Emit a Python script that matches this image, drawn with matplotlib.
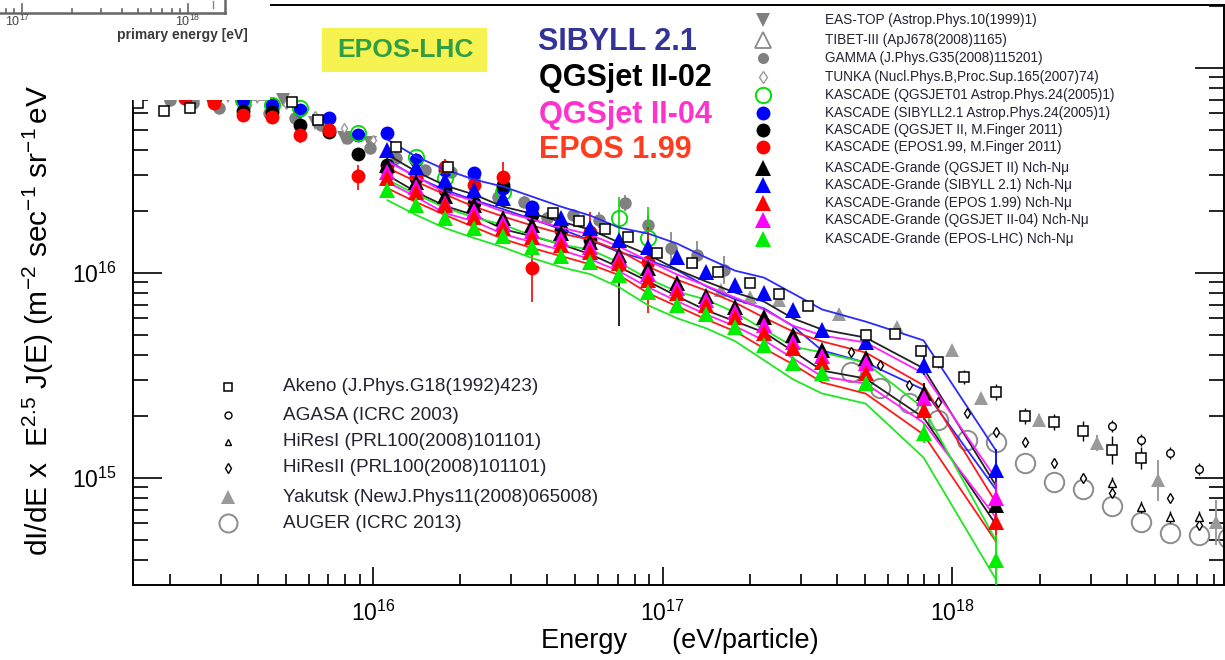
import numpy as np
import matplotlib
matplotlib.use('Agg')
import matplotlib.pyplot as plt
from matplotlib.ticker import LogLocator, LogFormatterMathtext, NullFormatter
from matplotlib.lines import Line2D
from matplotlib.patches import Rectangle

plt.rcParams['font.family'] = ['Liberation Sans', 'DejaVu Sans']
plt.rcParams['mathtext.fontset'] = 'custom'
plt.rcParams['mathtext.rm'] = 'Liberation Sans'
plt.rcParams['mathtext.it'] = 'Liberation Sans:italic'
plt.rcParams['mathtext.bf'] = 'Liberation Sans:bold'

# ---------------- data (log10 E [eV], log10 flux*E^2.5) ----------------
kg_logE = [16.05, 16.15, 16.25, 16.35, 16.45, 16.55, 16.65, 16.75, 16.85, 16.95,
           17.05, 17.15, 17.25, 17.35, 17.45, 17.55, 17.70, 17.90, 18.15]
kg_sibyll = [16.600, 16.517, 16.454, 16.405, 16.366, 16.317, 16.268, 16.220, 16.161, 16.127,
             16.078, 16.005, 15.941, 15.902, 15.820, 15.722, 15.663, 15.551, 15.039]
kg_qgsjet2 = [16.527, 16.444, 16.376, 16.332, 16.268, 16.234, 16.195, 16.151, 16.088, 16.024,
              15.951, 15.888, 15.834, 15.785, 15.698, 15.624, 15.585, 15.415, 14.868]
kg_qgsjet4 = [16.493, 16.420, 16.341, 16.302, 16.244, 16.205, 16.166, 16.127, 16.068, 15.995,
              15.927, 15.868, 15.810, 15.746, 15.663, 15.595, 15.561, 15.390, 14.902]
kg_epos199 = [16.463, 16.395, 16.332, 16.273, 16.220, 16.176, 16.137, 16.102, 16.049, 15.966,
              15.902, 15.844, 15.785, 15.707, 15.634, 15.566, 15.512, 15.332, 14.785]
kg_eposlhc = [16.405, 16.332, 16.268, 16.220, 16.180, 16.127, 16.083, 16.054, 15.990, 15.907,
              15.844, 15.800, 15.737, 15.649, 15.561, 15.512, 15.463, 15.220, 14.600]
kg_band = [0.05, 0.05, 0.05, 0.05, 0.055, 0.055, 0.055, 0.06, 0.06, 0.065,
           0.065, 0.07, 0.07, 0.075, 0.08, 0.10, 0.10, 0.12, 0.095]
kg_stat_err = [0.01, 0.01, 0.01, 0.01, 0.01, 0.01, 0.01, 0.01, 0.01, 0.015,
               0.015, 0.015, 0.02, 0.02, 0.02, 0.03, 0.03, 0.05, 0.10]
kg_last_err_lo = [0.10, 0.10, 0.10, 0.10, 0.30]   # sibyll, qgs2, qgs4, epos199, eposlhc
kg_last_err_hi = [0.10, 0.10, 0.08, 0.08, 0.12]

k_sib_logE = [15.35, 15.45, 15.55, 15.65, 15.75, 15.85, 15.95, 16.05, 16.15, 16.25, 16.35, 16.45, 16.55]
k_sib_val = [16.868, 16.859, 16.844, 16.820, 16.795, 16.756, 16.673, 16.683, 16.551, 16.502, 16.488, 16.415, 16.322]

k_qgs_logE = [15.35, 15.45, 15.55, 15.65, 15.75, 15.85, 15.95, 16.05, 16.15, 16.25, 16.35, 16.45,
              16.55, 16.65, 16.75, 16.85]
k_qgs_val = [16.854, 16.844, 16.790, 16.785, 16.722, 16.688, 16.580, 16.527, 16.463, 16.405, 16.341, 16.429,
             16.283, 16.210, 16.161, 16.039]
k_qgs_elo = [0.02, 0.02, 0.02, 0.02, 0.02, 0.02, 0.02, 0.02, 0.02, 0.03, 0.03, 0.03, 0.05, 0.06, 0.08, 0.30]
k_qgs_ehi = [0.02, 0.02, 0.02, 0.02, 0.02, 0.02, 0.02, 0.02, 0.02, 0.03, 0.03, 0.03, 0.05, 0.06, 0.08, 0.10]

k_epos_logE = [15.35, 15.45, 15.55, 15.65, 15.75, 15.85, 15.95, 16.05, 16.15, 16.25, 16.35, 16.45,
               16.55, 16.75, 16.95]
k_epos_val = [16.854, 16.829, 16.771, 16.761, 16.673, 16.698, 16.473, 16.502, 16.478, 16.517, 16.429, 16.468,
              16.024, 16.200, 16.054]
k_epos_elo = [0.02, 0.02, 0.02, 0.02, 0.04, 0.02, 0.068, 0.03, 0.03, 0.04, 0.03, 0.088, 0.165, 0.112, 0.249]
k_epos_ehi = [0.02, 0.02, 0.02, 0.02, 0.04, 0.02, 0.054, 0.03, 0.03, 0.04, 0.03, 0.073, 0.200, 0.098, 0.170]

k_q01_logE = [15.45, 15.55, 15.65, 15.75, 15.95, 16.15, 16.25, 16.45, 16.85, 16.95]
k_q01_val = [16.859, 16.844, 16.820, 16.805, 16.683, 16.566, 16.463, 16.395, 16.268, 16.171]
k_q01_elo = [0.02, 0.02, 0.02, 0.02, 0.02, 0.02, 0.03, 0.04, 0.141, 0.254]
k_q01_ehi = [0.02, 0.02, 0.02, 0.02, 0.02, 0.02, 0.03, 0.04, 0.103, 0.151]

gamma_logE = [15.30, 15.38, 15.47, 15.56, 15.64, 15.73, 15.82, 15.91, 15.99, 16.08, 16.18, 16.27,
              16.35, 16.43, 16.52, 16.60, 16.69, 16.78, 16.87, 16.95, 17.03, 17.12, 17.21]
gamma_val = [16.844, 16.829, 16.805, 16.820, 16.780, 16.756, 16.722, 16.659, 16.610, 16.561, 16.502, 16.493,
             16.463, 16.371, 16.346, 16.268, 16.283, 16.259, 16.341, 16.234, 16.122, 16.088, 16.015]
gamma_err = [0.02, 0.02, 0.02, 0.02, 0.02, 0.02, 0.02, 0.02, 0.02, 0.02, 0.02, 0.02,
             0.02, 0.02, 0.03, 0.03, 0.03, 0.04, 0.04, 0.05, 0.08, 0.07, 0.07]

eastop_logE = [15.40, 15.50, 15.60, 15.69, 15.80, 15.90, 15.99]
eastop_val = [16.868, 16.863, 16.859, 16.844, 16.732, 16.659, 16.634]

tibet_logE = [15.20, 15.30, 15.40, 15.50, 15.60]
tibet_val = [16.941, 16.932, 16.917, 16.902, 16.883]

tunka_logE = [15.50, 15.60, 15.70, 15.80, 15.90, 16.00]
tunka_val = [16.868, 16.859, 16.824, 16.766, 16.707, 16.649]

akeno_logE = [15.19, 15.28, 15.37, 15.72, 15.81, 16.08, 16.26, 16.62, 16.71, 16.80, 16.88, 16.98, 17.10,
              17.19, 17.30, 17.40, 17.50, 17.70, 17.80, 17.89, 17.95, 18.04, 18.15, 18.25, 18.35, 18.45,
              18.55, 18.65]
akeno_val = [16.829, 16.790, 16.805, 16.834, 16.746, 16.615, 16.517, 16.293, 16.254, 16.215, 16.176, 16.098,
             16.049, 16.005, 15.951, 15.898, 15.839, 15.698, 15.702, 15.620, 15.566, 15.493, 15.420, 15.302,
             15.273, 15.229, 15.137, 15.098]
akeno_err = [0.025, 0.025, 0.025, 0.02, 0.02, 0.02, 0.02, 0.02, 0.02, 0.02, 0.02, 0.02, 0.02,
             0.02, 0.02, 0.02, 0.02, 0.02, 0.02, 0.025, 0.03, 0.035, 0.04, 0.04, 0.04, 0.05,
             0.07, 0.055]

agasa_logE = [18.55, 18.65, 18.75, 18.85]
agasa_val = [15.254, 15.185, 15.122, 15.044]

hires1_logE = [18.55, 18.65, 18.75, 18.85]
hires1_val = [14.976, 14.859, 14.810, 14.810]

hires2_logE = [17.65, 17.75, 17.85, 17.95, 18.05, 18.15, 18.25, 18.35, 18.45, 18.55, 18.75, 18.85]
hires2_val = [15.615, 15.551, 15.454, 15.371, 15.317, 15.224, 15.176, 15.073, 15.000, 14.927, 14.902, 14.771]

yakutsk_logE = [17.20, 17.30, 17.40, 17.61, 17.81, 18.00, 18.10, 18.30, 18.50, 18.71, 18.91]
yakutsk_val = [15.917, 15.883, 15.868, 15.800, 15.737, 15.624, 15.390, 15.283, 15.171, 14.990, 14.785]
yakutsk_err = [0.02, 0.02, 0.02, 0.02, 0.02, 0.02, 0.02, 0.03, 0.04, 0.10, 0.11]

auger_logE = [17.65, 17.75, 17.85, 17.95, 18.05, 18.15, 18.25, 18.35, 18.45, 18.55, 18.65, 18.75, 18.85, 18.95]
auger_val = [15.517, 15.439, 15.366, 15.283, 15.185, 15.176, 15.073, 14.980, 14.946, 14.863, 14.785,
             14.732, 14.722, 14.707]

# ---------------- figure ----------------
W, H = 1225, 660
fig = plt.figure(figsize=(12.25, 6.6), dpi=100)
ax = fig.add_axes([133 / W, 1 - 585 / H, (1224 - 133) / W, 580 / H])
ax.set_xscale('log')
ax.set_yscale('log')
ax.set_xlim(10 ** 15.172, 10 ** 18.937)
ax.set_ylim(10 ** 14.478, 10 ** 17.307)

def P(a):
    return 10 ** np.asarray(a, dtype=float)

def yerr(val, lo, hi):
    v = P(val)
    return [v - v * 10 ** (-np.asarray(lo)), v * 10 ** np.asarray(hi) - v]

GREY = '#808080'
# grey world data
ax.errorbar(P(gamma_logE), P(gamma_val), yerr=yerr(gamma_val, gamma_err, gamma_err), fmt='o',
            color=GREY, ms=9, mew=0, elinewidth=1.2, capsize=0, zorder=2)
ax.plot(P(eastop_logE), P(eastop_val), 'v', color=GREY, ms=10, mew=0, zorder=2)
ax.plot(P(tibet_logE), P(tibet_val), '^', mfc='none', mec='#8a8a8a', mew=1.3, ms=11, zorder=2)
ax.plot(P(tunka_logE), P(tunka_val), 'd', mfc='white', mec='#9a9a9a', mew=1.0, ms=5, zorder=2)
ax.errorbar(P(yakutsk_logE), P(yakutsk_val), yerr=yerr(yakutsk_val, yakutsk_err, yakutsk_err), fmt='^',
            color='#9a9a9a', ms=10, mew=0, elinewidth=1.4, capsize=0, zorder=2)
ax.plot(P(auger_logE), P(auger_val), 'o', mfc='none', mec='#8c8c8c', mew=1.4, ms=14, zorder=2)

# KASCADE circles
ax.errorbar(P(k_q01_logE), P(k_q01_val), yerr=yerr(k_q01_val, k_q01_elo, k_q01_ehi), fmt='o',
            mfc='none', mec='#00dd00', ecolor='#00dd00', mew=1.3, ms=11, elinewidth=1.2, capsize=0, zorder=3)
ax.plot(P(k_sib_logE), P(k_sib_val), 'o', color='#0000ff', ms=10, mew=0, zorder=3)
ax.errorbar(P(k_qgs_logE), P(k_qgs_val), yerr=yerr(k_qgs_val, k_qgs_elo, k_qgs_ehi), fmt='o',
            color='black', ms=10, mew=0, elinewidth=1.2, capsize=4, zorder=3)
ax.errorbar(P(k_epos_logE), P(k_epos_val), yerr=yerr(k_epos_val, k_epos_elo, k_epos_ehi), fmt='o',
            color='#ff0000', ms=10, mew=0, elinewidth=1.2, capsize=4, zorder=3)

# KASCADE-Grande
models = [
    (kg_sibyll, '#0000ff', '#2a2aff'),
    (kg_qgsjet2, 'black', '#222222'),
    (kg_qgsjet4, '#ff00ff', '#ff22ff'),
    (kg_epos199, '#ff0000', '#ff1a1a'),
    (kg_eposlhc, '#00ee00', '#22e622'),
]
E_kg = P(kg_logE)
band = np.asarray(kg_band)
for vals, c, lc in models:
    v = np.asarray(vals)
    ax.plot(E_kg, 10 ** (v + band), color=lc, lw=1.3, zorder=4)
    ax.plot(E_kg, 10 ** (v - band), color=lc, lw=1.3, zorder=4)
for i, (vals, c, lc) in enumerate(models):
    lo = list(kg_stat_err[:-1]) + [kg_last_err_lo[i]]
    hi = list(kg_stat_err[:-1]) + [kg_last_err_hi[i]]
    ax.errorbar(E_kg, P(vals), yerr=yerr(vals, lo, hi), fmt='^', color=c, ms=11, mew=0,
                elinewidth=1.3, capsize=0, zorder=5)

# other black data
ax.errorbar(P(akeno_logE), P(akeno_val), yerr=yerr(akeno_val, akeno_err, akeno_err), fmt='s',
            mfc='white', mec='black', ecolor='black', mew=1.1, ms=6.5, elinewidth=1.0, capsize=0, zorder=6)
ax.errorbar(P(agasa_logE), P(agasa_val), yerr=yerr(agasa_val, [0.03] * 4, [0.03] * 4), fmt='o',
            mfc='white', mec='black', ecolor='black', mew=1.0, ms=5.5, elinewidth=1.0, capsize=0, zorder=6)
ax.errorbar(P(hires1_logE), P(hires1_val), yerr=yerr(hires1_val, [0.03] * 4, [0.03] * 4), fmt='^',
            mfc='white', mec='black', ecolor='black', mew=1.0, ms=5.5, elinewidth=1.0, capsize=0, zorder=6)
ax.plot(P(hires2_logE), P(hires2_val), 'd', mfc='white', mec='black', mew=1.0, ms=5, zorder=6)

# axes styling
for s in ax.spines.values():
    s.set_linewidth(1.4)
ax.xaxis.set_major_locator(LogLocator(base=10, numticks=20))
ax.xaxis.set_minor_locator(LogLocator(base=10, subs=np.arange(2, 10), numticks=40))
ax.yaxis.set_major_locator(LogLocator(base=10, numticks=20))
ax.yaxis.set_minor_locator(LogLocator(base=10, subs=np.arange(2, 10), numticks=40))
ax.xaxis.set_major_formatter(LogFormatterMathtext())
ax.yaxis.set_major_formatter(LogFormatterMathtext())
ax.xaxis.set_minor_formatter(NullFormatter())
ax.yaxis.set_minor_formatter(NullFormatter())
ax.tick_params(axis='y', which='major', direction='in', length=21, width=1.2, left=True, right=True,
               labelsize=16.5, pad=12)
ax.tick_params(axis='y', which='minor', direction='in', length=11, width=1.2, left=True, right=True)
ax.tick_params(axis='x', which='major', direction='in', length=13, width=1.2, bottom=True, top=False,
               labelsize=16.5, pad=11)
ax.tick_params(axis='x', which='minor', direction='in', length=8, width=1.2, bottom=True, top=False)

def fx(px):
    return px / W

def fy(py):
    return 1 - py / H

# white cover (overlaid inset fragment from another figure)
fig.add_artist(Rectangle((0, fy(100)), fx(270), 100 / H, transform=fig.transFigure,
                         fc='white', ec='none', zorder=1.5))
fig.add_artist(Line2D([0, fx(225)], [fy(13), fy(13)], transform=fig.transFigure, color='#666666', lw=1.8, zorder=2.5))
fig.add_artist(Line2D([fx(225), fx(225)], [fy(13), 1.0], transform=fig.transFigure, color='#666666', lw=1.8, zorder=2.5))
inset_mult = [0.7, 0.8, 0.9, 1, 2, 3, 4, 5, 6, 7, 8, 9, 10]
for m in inset_mult:
    lx = 22 + 166 * np.log10(m)
    tl = 9 if m in (1, 10) else 4
    fig.add_artist(Line2D([fx(lx), fx(lx)], [fy(13), fy(13 - tl)], transform=fig.transFigure,
                          color='#666666', lw=1.2, zorder=2.5))
fig.add_artist(Line2D([fx(213), fx(213)], [fy(1), fy(8)], transform=fig.transFigure, color='#888888', lw=1.0, zorder=2.5))
fig.text(fx(18), fy(21), r'$10^{17}$', fontsize=9, color='#444444', ha='center', va='center', zorder=3)
fig.text(fx(188), fy(21), r'$10^{18}$', fontsize=9, color='#444444', ha='center', va='center', zorder=3)
fig.text(fx(182), fy(35), 'primary energy [eV]', fontsize=10, fontweight='bold', color='#3a3a3a',
         ha='center', va='center', zorder=3)

# axis labels
fig.text(fx(38), fy(320), r'$\mathrm{dI/dE\ x\ \ E^{2.5}\ J(E)\ (m^{-2}\ sec^{-1}\ sr^{-1}\,eV}$',
         rotation=90, fontsize=21.5, ha='center', va='center', zorder=3)
fig.text(fx(680), fy(641), 'Energy      (eV/particle)', fontsize=19.5, ha='center', va='center', zorder=3)

# model labels
fig.add_artist(Rectangle((fx(322), fy(72)), 165 / W, 44 / H, transform=fig.transFigure,
                         fc='#f6f250', ec='none', zorder=2.5))
fig.text(fx(405), fy(50), 'EPOS-LHC', fontsize=19, fontweight='bold', color='#2f9e44', ha='center', va='center', zorder=3)
fig.text(fx(617), fy(42), 'SIBYLL 2.1', fontsize=22, fontweight='bold', color='#333399', ha='center', va='center', zorder=3)
fig.text(fx(625), fy(78), 'QGSjet II-02', fontsize=22, fontweight='bold', color='black', ha='center', va='center', zorder=3)
fig.text(fx(625), fy(115), 'QGSjet II-04', fontsize=22, fontweight='bold', color='#ff33cc', ha='center', va='center', zorder=3)
fig.text(fx(615), fy(150), 'EPOS 1.99', fontsize=22, fontweight='bold', color='#ff3c1e', ha='center', va='center', zorder=3)

# legend 1 (top right)
leg1_labels = [
    "EAS-TOP (Astrop.Phys.10(1999)1)",
    "TIBET-III (ApJ678(2008)1165)",
    "GAMMA (J.Phys.G35(2008)115201)",
    "TUNKA (Nucl.Phys.B,Proc.Sup.165(2007)74)",
    "KASCADE (QGSJET01 Astrop.Phys.24(2005)1)",
    "KASCADE (SIBYLL2.1 Astrop.Phys.24(2005)1)",
    "KASCADE (QGSJET II, M.Finger 2011)",
    "KASCADE (EPOS1.99, M.Finger 2011)",
    "KASCADE-Grande (QGSJET II) Nch-N\u03bc",
    "KASCADE-Grande (SIBYLL 2.1) Nch-N\u03bc",
    "KASCADE-Grande (EPOS 1.99) Nch-N\u03bc",
    "KASCADE-Grande (QGSJET II-04) Nch-N\u03bc",
    "KASCADE-Grande (EPOS-LHC) Nch-N\u03bc",
]
leg1_styles = [
    dict(marker='v', color=GREY, ms=10, mew=0),
    dict(marker='^', mfc='none', mec='#8a8a8a', mew=1.3, ms=11),
    dict(marker='o', color=GREY, ms=8, mew=0),
    dict(marker='d', mfc='white', mec='#9a9a9a', mew=1.0, ms=6),
    dict(marker='o', mfc='none', mec='#00dd00', mew=1.4, ms=11),
    dict(marker='o', color='#0000ff', ms=10, mew=0),
    dict(marker='o', color='black', ms=10, mew=0),
    dict(marker='o', color='#ff0000', ms=10, mew=0),
    dict(marker='^', color='black', ms=11, mew=0),
    dict(marker='^', color='#0000ff', ms=11, mew=0),
    dict(marker='^', color='#ff0000', ms=11, mew=0),
    dict(marker='^', color='#ff00ff', ms=11, mew=0),
    dict(marker='^', color='#00ee00', ms=11, mew=0),
]
leg1_rows = [20, 40, 58, 77, 95, 113, 130, 147, 168, 185, 203, 220, 239]
for lab, st, ry in zip(leg1_labels, leg1_styles, leg1_rows):
    fig.add_artist(Line2D([fx(763)], [fy(ry)], transform=fig.transFigure, ls='none', zorder=3, **st))
    fig.text(fx(825), fy(ry), lab, fontsize=9.8, color='#222233', ha='left', va='center', zorder=3)

# legend 2 (lower left)
leg2_labels = [
    "Akeno (J.Phys.G18(1992)423)",
    "AGASA (ICRC 2003)",
    "HiResI (PRL100(2008)101101)",
    "HiResII (PRL100(2008)101101)",
    "Yakutsk (NewJ.Phys11(2008)065008)",
    "AUGER (ICRC 2013)",
]
leg2_styles = [
    dict(marker='s', mfc='white', mec='black', mew=1.1, ms=6),
    dict(marker='o', mfc='white', mec='black', mew=1.0, ms=5),
    dict(marker='^', mfc='white', mec='black', mew=1.0, ms=5),
    dict(marker='d', mfc='white', mec='black', mew=1.0, ms=5),
    dict(marker='^', color='#9a9a9a', ms=10, mew=0),
    dict(marker='o', mfc='none', mec='#8c8c8c', mew=1.4, ms=13),
]
leg2_rows = [387, 415, 442, 468, 497, 523]
for lab, st, ry in zip(leg2_labels, leg2_styles, leg2_rows):
    fig.add_artist(Line2D([fx(228)], [fy(ry)], transform=fig.transFigure, ls='none', zorder=3, **st))
    fig.text(fx(283), fy(ry), lab, fontsize=13.6, color='#222233', ha='left', va='center', zorder=3)

fig.savefig('out.png', dpi=100, facecolor='white')
